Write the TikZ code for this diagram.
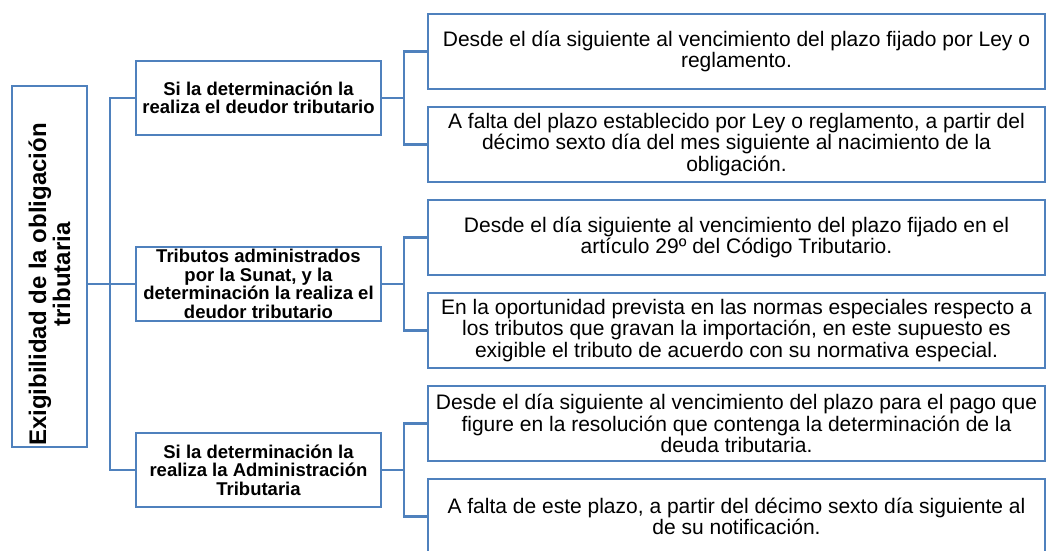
\documentclass[tikz,border=0pt]{standalone}
\usepackage{fontspec}
\setmainfont{Liberation Sans}
\usetikzlibrary{positioning}
\definecolor{ofblue}{RGB}{79,129,189}

\begin{document}
\begin{tikzpicture}[
    x=1pt, y=-1pt,
    font=\fontsize{21}{21.5}\selectfont,
    block/.style={
        draw=ofblue,
        line width=2.2pt,
        inner sep=1pt,
        outer sep=0pt,
        align=center
    },
    root/.style={block, rotate=90, minimum width=357pt, minimum height=75pt,
        font=\fontsize{24}{24}\selectfont\bfseries},
    cond/.style={block, minimum width=245pt, minimum height=74pt,
        font=\fontsize{18.5}{18.5}\selectfont\bfseries},
    plazo/.style={block, minimum width=617pt, minimum height=75pt},
    link/.style={draw=ofblue, line width=2.2pt}
]
\useasboundingbox (0,0) rectangle (1047,551);

% ============================================================
% RAIZ
% ============================================================
\node[root] (exig) at (49.5,266.5) {Exigibilidad de la obligación\hspace*{36pt}\\tributaria\hspace*{16pt}};

% ============================================================
% PLAZOS
% ============================================================
\node[plazo] (pA) at (736.5,51.5) {Desde el día siguiente al vencimiento del plazo fijado por Ley o\\reglamento.};
\node[plazo, below=18pt of pA] (pB) {A falta del plazo establecido por Ley o reglamento, a partir del\\décimo sexto día del mes siguiente al nacimiento de la\\obligación.};
\node[plazo, below=18pt of pB] (pC) {Desde el día siguiente al vencimiento del plazo fijado en el\\artículo 29º del Código Tributario.};
\node[plazo, below=18pt of pC] (pD) {En la oportunidad prevista en las normas especiales respecto a\\los tributos que gravan la importación, en este supuesto es\\exigible el tributo de acuerdo con su normativa especial.};
\node[plazo, below=18pt of pD] (pE) {Desde el día siguiente al vencimiento del plazo para el pago que\\figure en la resolución que contenga la determinación de la\\deuda tributaria.};
\node[plazo, below=18pt of pE] (pF) {A falta de este plazo, a partir del décimo sexto día siguiente al\\de su notificación.};

% ============================================================
% SUPUESTOS
% ============================================================
\node[cond] (cond1) at (258.5,98) {Si la determinación la\\realiza el deudor tributario};
\node[cond] (cond2) at (258.5,284) {Tributos administrados\\por la Sunat, y la\\determinación la realiza el\\deudor tributario};
\node[cond] (cond3) at (258.5,470) {Si la determinación la\\realiza la Administración\\Tributaria};

% conectores
\draw[link] (exig.south |- cond2.west) -- (cond2.west);
\draw[link] (cond1.west) -- ++(-26,0) |- (cond3.west);

\draw[link] (cond1.east) -- ++(23,0);
\draw[link] (pA.west) -- ++(-24,0) |- (pB.west);
\draw[link] (cond2.east) -- ++(23,0);
\draw[link] (pC.west) -- ++(-24,0) |- (pD.west);
\draw[link] (cond3.east) -- ++(23,0);
\draw[link] (pE.west) -- ++(-24,0) |- (pF.west);

\end{tikzpicture}
\end{document}
